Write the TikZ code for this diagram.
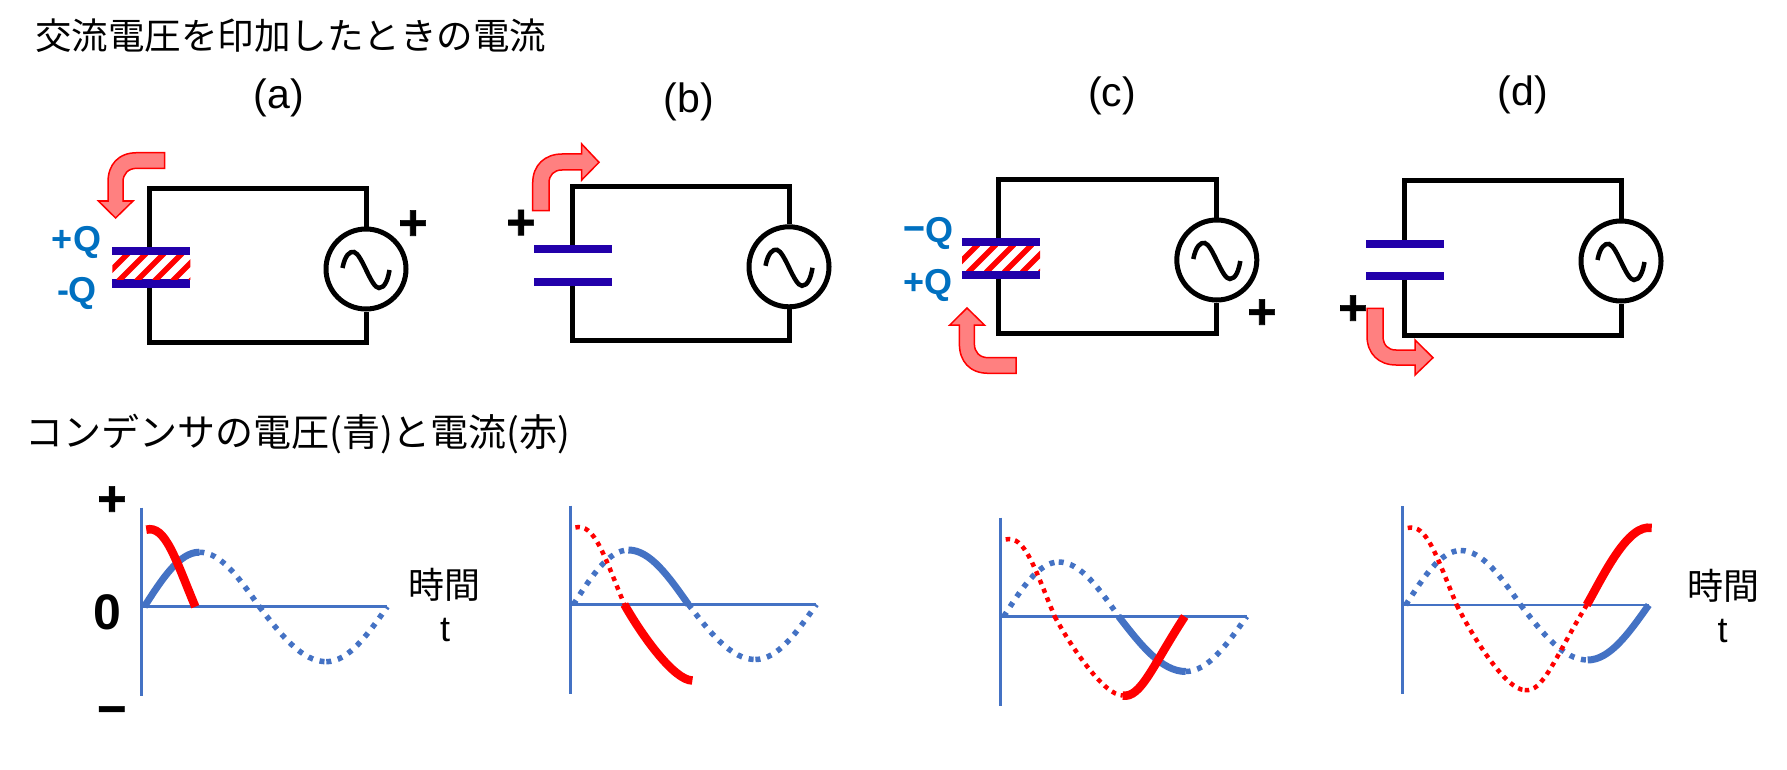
\documentclass[tikz,border=0pt]{standalone}
\usepackage{fontspec}
\setmainfont{Liberation Sans}
\newfontfamily\jpfont{Noto Sans CJK JP}
\newfontfamily\signfont[BoldFeatures={FakeBold=1.2}]{Liberation Sans}
\usetikzlibrary{shapes.geometric}
\definecolor{plateblue}{HTML}{2200AA}
\definecolor{qblue}{HTML}{0070C0}
\definecolor{waveblue}{HTML}{4472C4}
\definecolor{arrowpink}{HTML}{FF8080}
\tikzset{
  haisen/.style={line width=5pt,black,line join=miter},
  plate/.style={fill=plateblue,minimum width=78pt,minimum height=8.3pt,inner sep=0pt},
  source/.style={ellipse,draw,line width=5pt,minimum width=80pt,minimum height=80pt,inner sep=0pt},
  ya/.style={draw=red,fill=arrowpink,line width=1.5pt,line join=miter},
  title/.style={anchor=west,inner sep=0pt,font=\jpfont\fontsize{36.5}{36.5}\selectfont},
  jptext/.style={inner sep=0pt,font=\jpfont\fontsize{36}{36}\selectfont},
  case/.style={inner sep=0pt,font=\fontsize{41}{41}\selectfont},
  charge/.style={inner sep=0pt,text=qblue,font=\bfseries\fontsize{36}{36}\selectfont},
  sign/.style={inner sep=0pt,font=\signfont\bfseries\fontsize{50}{50}\selectfont},
  axis/.style={line width=2.5pt,waveblue},
  aosolid/.style={line width=7pt,waveblue},
  aodot/.style={line width=5.5pt,waveblue,dash pattern=on 5pt off 6.8pt},
  akasolid/.style={line width=8.5pt,red},
  akadot/.style={line width=4.5pt,red,dash pattern=on 4.5pt off 5pt}
}
% 電圧と電流の波形 (#1:原点, #2:太線にする区間, #3:電流の谷の深さ)
\newcommand{\nami}[3]{
  \begin{scope}[shift={#1}]
    \draw[axis] (0,-99)--(0,89);
    \draw[axis] (0,0)--(246,0);
    \foreach \q/\p/\ca/\cb/\r in {1/{(3,0)}/{(20.9,-27.9)}/{(38.1,-54.5)}/{(58,-54.5)},
        2/{(58,-54.5)}/{(79.7,-54.5)}/{(98.4,-27.9)}/{(118,0)},
        3/{(118,0)}/{(139.8,28.2)}/{(160.7,55)}/{(185,55)},
        4/{(185,55)}/{(207.1,55)}/{(226.1,28.2)}/{(246,0)}}{
      \ifnum\q=#2 \draw[aosolid] \p .. controls \ca and \cb .. \r;
      \else \draw[aodot] \p .. controls \ca and \cb .. \r; \fi
    }
    \foreach \q/\p/\ca/\cb/\r in {1/{(5,-77)}/{(24,-82)}/{(34,-48)}/{(54,0)},
        2/{(54,0)}/{(72,0.42*#3)}/{(104,#3)}/{(122,#3)},
        3/{(122,#3)}/{(140,1.04*#3)}/{(152,0.62*#3)}/{(184,0)},
        4/{(184,0)}/{(200,-28)}/{(225,-82)}/{(249,-77)}}{
      \ifnum\q=#2 \draw[akasolid] \p .. controls \ca and \cb .. \r; \fi
      \ifnum\q<#2 \draw[akadot] \p .. controls \ca and \cb .. \r; \fi
    }
  \end{scope}
}
\begin{document}
\begin{tikzpicture}[x=1pt,y=-1pt]
    \useasboundingbox (0,0) rectangle (1787,770);
    % 見出し
    \node[title] (title1) at (35,36) {交流電圧を印加したときの電流};
    \node[title,font=\jpfont\fontsize{38}{38}\selectfont] (title2) at (25,434) {コンデンサの電圧(青)と電流(赤)};
    \node[case] (case-a) at (279,98) {(a)};
    \node[case] (case-b) at (688.6,101.5) {(b)};
    \node[case] (case-c) at (1112,95.7) {(c)};
    \node[case] (case-d) at (1523,94.6) {(d)};
    % 回路
    \foreach \n/\xl/\xr/\yt/\yb/\xp/\yu/\yd/\ys in {a/149/366/188.5/342/151.25/251/283.5/269,
        b/572/789/186.7/340/573.3/249/281.7/266.8,
        c/998.6/1216.8/180/333.3/1001/242/275/260,
        d/1404/1621/181/335.3/1405/244/276/261}{
      \node[plate] (\n-up) at (\xp,\yu) {};
      \node[plate] (\n-dn) at (\xp,\yd) {};
      \node[source] (\n-src) at (\xr,\ys) {};
      \coordinate (\n-tl) at (\xl,\yt);
      \coordinate (\n-tr) at (\xr,\yt);
      \coordinate (\n-bl) at (\xl,\yb);
      \coordinate (\n-br) at (\xr,\yb);
      \draw[haisen] (\n-up.north-|\n-tl)--(\n-tl)--(\n-tr)--(\n-src.north);
      \draw[haisen] (\n-dn.south-|\n-bl)--(\n-bl)--(\n-br)--(\n-src.south);
      % 電源の記号
      \draw[line width=4.5pt,shift={(\n-src.center)}] (-23.5,-1) .. controls (-21,-14) and (-16,-18) .. (-12,-17) .. controls (-4,-15) and (5,19) .. (13,19) .. controls (19,19) and (22,10) .. (23.5,1);
    }
    % 誘電体の縞
    \foreach \xp/\ym in {151.25/267.2,1001/258.5}{
      \begin{scope}
        \clip (\xp-39,\ym-12) rectangle (\xp+39,\ym+12);
        \foreach \s in {-67,-49,-31,-13,5,23,41}{
          \draw[red,line width=5.5pt] (\xp+\s-2,\ym+14)--(\xp+\s+26,\ym-14);
        }
      \end{scope}
    }
    % 電荷
    \node[charge] (qa1) at (76.5,242) {+Q};
    \node[charge] (qa2) at (77,293.5) {-Q};
    \node[charge] (qc1) at (928.5,233) {{\jpfont −}Q};
    \node[charge] (qc2) at (928,285) {+Q};
    % 電源の極性
    \node[sign] (pa) at (413,225) {+};
    \node[sign] (pb) at (521,224.5) {+};
    \node[sign] (pc) at (1262,314) {+};
    \node[sign] (pd) at (1353,310) {+};
    % 電流の矢印
    \draw[ya] (164.6,152.7)--(137,152.7) .. controls (118,152.7) and (108,165) .. (108,182)--(108,201)--(98.4,201)--(115.6,218)--(133,201)--(123,201)--(123,182) .. controls (123,174) and (128,168.3) .. (137,168.3)--(164.6,168.3)--cycle;
    \draw[ya] (532.7,210.7)--(532.7,183) .. controls (532.7,165) and (545,154) .. (562,154)--(581.7,154)--(581.7,144)--(599,162.3)--(581.7,180)--(581.7,170)--(562,170) .. controls (554,170) and (549,175) .. (549,183)--(549,210.7)--cycle;
    \draw[ya] (1016,373.3)--(988.4,373.3) .. controls (969.4,373.3) and (959.4,361) .. (959.4,344)--(959.4,325)--(949.8,325)--(967,308)--(984.4,325)--(974.4,325)--(974.4,344) .. controls (974.4,352) and (979.4,357.7) .. (988.4,357.7)--(1016,357.7)--cycle;
    \draw[ya] (1367,308.3)--(1367,336) .. controls (1367,354) and (1379,365) .. (1396,365)--(1415,365)--(1415,375)--(1433,357.7)--(1415,340)--(1415,350)--(1396,350) .. controls (1388,350) and (1383,345) .. (1383,336)--(1383,308.3)--cycle;
    % 波形
    \nami{(141.3,606.7)}{1}{76}
    \nami{(570.4,604.5)}{2}{76}
    \nami{(1000.7,616.5)}{3}{79}
    \nami{(1402.7,605)}{4}{85}
    % 軸のラベル
    \node[sign] (vp) at (112,501) {+};
    \node[sign,font=\bfseries\fontsize{50}{50}\selectfont] (v0) at (107,612.5) {0};
    \node[sign] (vm) at (111.7,716) {−};
    \node[jptext] (ta) at (444.6,585) {時間};
    \node[case,font=\fontsize{36}{36}\selectfont] (tb) at (445,629.5) {t};
    \node[jptext] (tc) at (1723,586) {時間};
    \node[case,font=\fontsize{36}{36}\selectfont] (td) at (1722.6,631) {t};
\end{tikzpicture}
\end{document}
